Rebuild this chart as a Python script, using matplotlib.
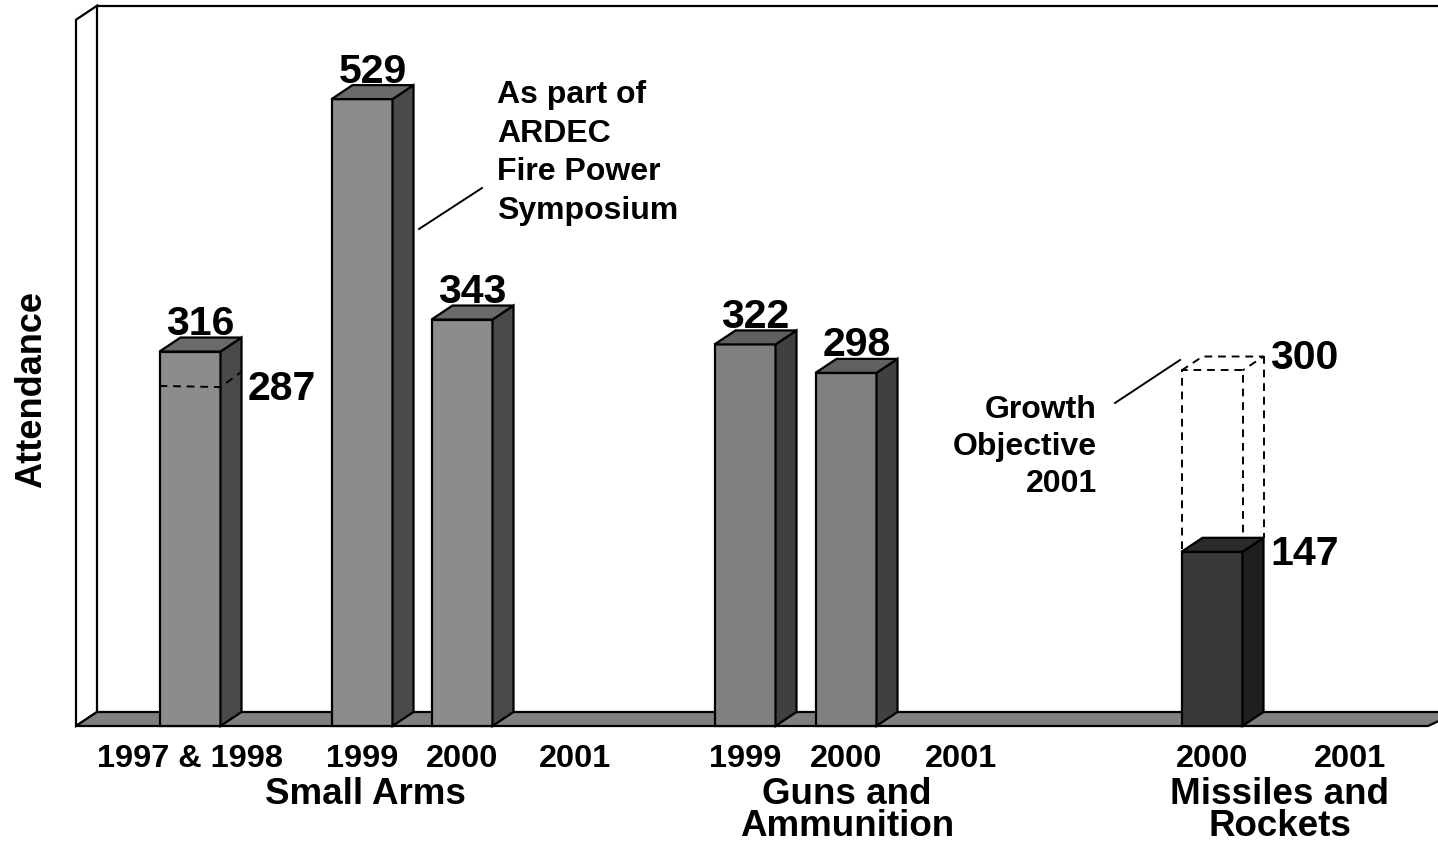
import matplotlib
matplotlib.use('Agg')
import matplotlib.pyplot as plt
from matplotlib.patches import Polygon

plt.rcParams['font.family'] = ['Liberation Sans', 'DejaVu Sans']
plt.rcParams['font.weight'] = 'bold'

# --- data ---
year_labels = ['1997 & 1998', '1999', '2000', '2001', '1999', '2000', '2001', '2000', '2001']
attendance = [316, 529, 343, None, 322, 298, None, 147, None]
bar_shade = ['light', 'light', 'light', None, 'mid', 'mid', None, 'dark', None]
group_names = ['Small Arms', 'Guns and\nAmmunition', 'Missiles and\nRockets']
attendance_1997 = 287      # first bar also shows the 1997 figure
objective_2001 = 300       # growth objective, missiles & rockets
objective_idx = 7

# --- layout (x in figure pixels) ---
year_x = [190, 362, 462, 575, 745, 846, 961, 1212, 1350]
group_x = [365, 847, 1280]

W, H = 1438, 846
BASE_PX = 726          # pixel row of the front floor edge
PX_PER_UNIT = 1.185    # pixels per attendee
BAR_W = 61
DX = 21                # depth offset, pixels
DY = 14 / PX_PER_UNIT  # depth offset, value units
WALL_X = 76
WALL_TOP = 596

shades = {
    'light': ('#8c8c8c', '#4a4a4a', '#6a6a6a'),
    'mid': ('#808080', '#404040', '#606060'),
    'dark': ('#393939', '#1f1f1f', '#2b2b2b'),
}


def pv(py):
    # pixel row -> value units
    return (BASE_PX - py) / PX_PER_UNIT


fig = plt.figure(figsize=(W / 100, H / 100), dpi=100)
ax = fig.add_axes([0, 0, 1, 1])
ax.set_xlim(0, W)
ax.set_ylim(pv(H), pv(0))
ax.axis('off')

lw = 1.6

# walls and floor
ax.add_patch(Polygon([(WALL_X, 0), (WALL_X + DX, DY), (WALL_X + DX, WALL_TOP + DY), (WALL_X, WALL_TOP)],
                     closed=True, facecolor='white', edgecolor='black', lw=lw, zorder=1))
ax.plot([WALL_X + DX, W + 5], [WALL_TOP + DY, WALL_TOP + DY], color='black', lw=lw, zorder=1)
ax.add_patch(Polygon([(WALL_X, 0), (WALL_X + DX, DY), (W + 20, DY), (W - 10, 0)],
                     closed=True, facecolor='#808080', edgecolor='black', lw=lw, zorder=2))

# growth objective (dashed box)
ol = year_x[objective_idx] - BAR_W / 2
orr = year_x[objective_idx] + BAR_W / 2
ov = objective_2001
cur = attendance[objective_idx]
dash = dict(color='black', lw=1.4, ls=(0, (4, 3)), zorder=3)
ax.plot([ol, ol, orr, orr], [0, ov, ov, 0], **dash)
ax.plot([ol, ol + DX, orr + DX, orr], [ov, ov + DY, ov + DY, ov], **dash)
ax.plot([orr + DX, orr + DX], [ov + DY, cur + DY], **dash)

# bars
for xc, v, shade in zip(year_x, attendance, bar_shade):
    if v is None:
        continue
    front, side, top = shades[shade]
    l, r = xc - BAR_W / 2, xc + BAR_W / 2
    ax.add_patch(Polygon([(l, 0), (r, 0), (r, v), (l, v)], closed=True,
                         facecolor=front, edgecolor='black', lw=lw, zorder=4))
    ax.add_patch(Polygon([(r, 0), (r + DX, DY), (r + DX, v + DY), (r, v)], closed=True,
                         facecolor=side, edgecolor='black', lw=lw, zorder=4))
    ax.add_patch(Polygon([(l, v), (r, v), (r + DX, v + DY), (l + DX, v + DY)], closed=True,
                         facecolor=top, edgecolor='black', lw=lw, zorder=4))
    if shade == 'dark':
        ax.text(r + DX + 7, v - 2, str(v), ha='left', va='center', fontsize=29.5, zorder=6)
    else:
        ax.text(xc + DX / 2, v + DY + 2, str(v), ha='center', va='baseline', fontsize=29.5, zorder=6)

# 1997 marker on the first bar
l0, r0 = year_x[0] - BAR_W / 2, year_x[0] + BAR_W / 2
ax.plot([l0, r0, r0 + DX], [attendance_1997, attendance_1997 - 1, attendance_1997 + DY],
        color='black', lw=1.4, ls=(0, (4, 3)), zorder=5)
ax.text(r0 + DX + 6, attendance_1997 - 3, str(attendance_1997), ha='left', va='center',
        fontsize=29.5, zorder=6)

ax.text(orr + DX + 7, ov + DY - 1, str(ov), ha='left', va='center', fontsize=29.5, zorder=6)

# annotations
ax.plot([419, 482], [pv(229), pv(188)], color='black', lw=1.4, zorder=6)
ax.text(497, pv(80), 'As part of\nARDEC\nFire Power\nSymposium', ha='left', va='top',
        fontsize=23, linespacing=1.37, zorder=6)
ax.plot([1115, 1180], [pv(403), pv(360)], color='black', lw=1.4, zorder=6)
ax.text(1097, pv(395), 'Growth\nObjective\n2001', ha='right', va='top', multialignment='right',
        fontsize=23, linespacing=1.3, zorder=6)

# axis labels
for xc, lab in zip(year_x, year_labels):
    ax.text(xc, pv(759), lab, ha='center', va='center', fontsize=23.4)
for xc, lab in zip(group_x, group_names):
    ax.text(xc, pv(777), lab, ha='center', va='top', fontsize=26.5, linespacing=0.88)
ax.text(32, pv(390), 'Attendance', rotation=90, ha='center', va='center', fontsize=26)

fig.savefig('out.png', dpi=100)
